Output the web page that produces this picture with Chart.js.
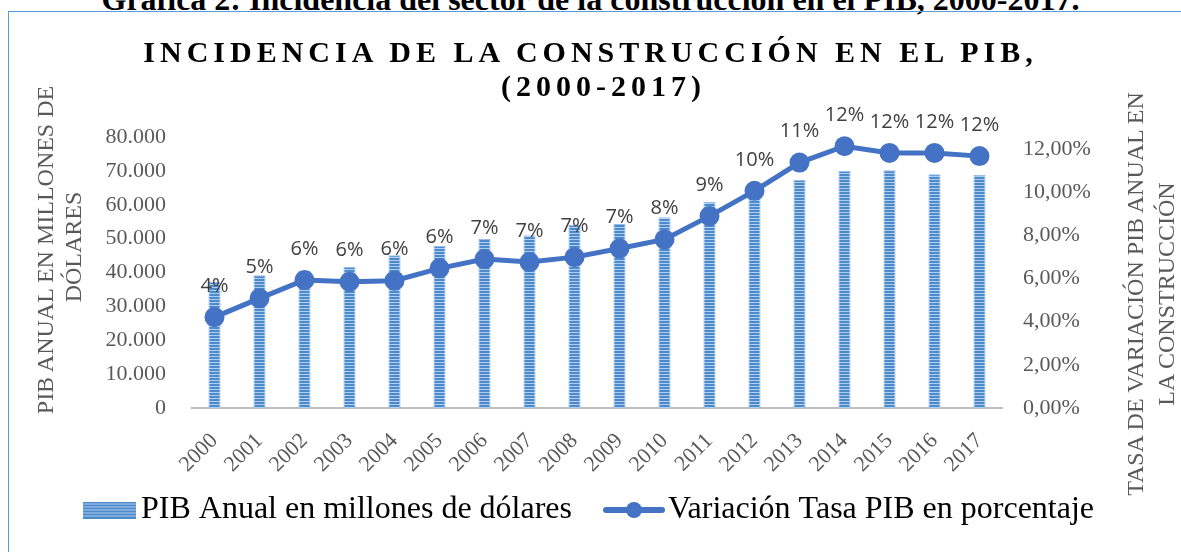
<!DOCTYPE html>
<html>
<head>
<meta charset="utf-8">
<script src="https://cdn.jsdelivr.net/npm/chart.js@4.4.0/dist/chart.umd.min.js"></script>
<style>
html, body { margin:0; padding:0; background:#fff; }
#wrap { position:relative; width:1181px; height:552px; overflow:hidden; font-family:'Liberation Serif','Times New Roman',serif; }
#caption { position:absolute; left:0; top:-17px; width:1181px; text-align:center; font-weight:bold; font-size:32px; line-height:32px; color:#000; white-space:nowrap; }
#frame { position:absolute; left:8px; top:11px; width:1300px; height:700px; border:1px solid #5b9bd5; }
canvas { position:absolute; left:0; top:0; }
.title { position:absolute; font-weight:bold; font-size:30px; line-height:30px; letter-spacing:5px; padding-left:5px; white-space:nowrap; color:#000; transform:translateX(-50%); }
.ax { position:absolute; font-size:24px; line-height:24px; color:#595959; white-space:nowrap; transform:translate(-50%,-50%) rotate(-90deg); }
</style>
</head>
<body>
<div id="wrap">
  <div id="caption">Gráfica 2: Incidencia del sector de la construcción en el PIB, 2000-2017.</div>
  <div id="frame"></div>
  <canvas id="chart" width="1181" height="552"></canvas>
  <div class="title" style="left:588px; top:37px;">INCIDENCIA DE LA CONSTRUCCIÓN EN EL PIB,</div>
  <div class="title" style="left:601px; top:71px;">(2000-2017)</div>
  <div class="ax" style="left:45px; top:250px;">PIB ANUAL EN MILLONES DE</div>
  <div class="ax" style="left:73px; top:247px;">DÓLARES</div>
  <div class="ax" style="left:1135px; top:294px;">TASA DE VARIACIÓN PIB ANUAL EN</div>
  <div class="ax" style="left:1166px; top:294px;">LA CONSTRUCCIÓN</div>
</div>
<script>
const years = ['2000', '2001', '2002', '2003', '2004', '2005', '2006', '2007', '2008',
    '2009', '2010', '2011', '2012', '2013', '2014', '2015', '2016', '2017'];

// PIB anual de la construccion, millones de dolares
const pibAnual = [37300, 39200, 40500, 41700, 45100, 47800, 49900, 51000, 54000,
    54300, 56300, 60900, 64900, 67300, 70000, 70200, 69000, 68800];

// variacion de la tasa, en porcentaje
const tasaVariacion = [4.21, 5.08, 5.93, 5.85, 5.90, 6.47, 6.90, 6.76, 6.99,
    7.39, 7.81, 8.89, 10.06, 11.37, 12.13, 11.82, 11.82, 11.67];

const serif = 'Liberation Serif';
const grey = '#595959';
const lineBlue = '#4472c4';

function stripes() {
    const c = document.createElement('canvas');
    c.width = 4; c.height = 3;
    const x = c.getContext('2d');
    x.fillStyle = '#4d8acb';
    x.fillRect(0, 0, 4, 2);
    x.fillStyle = '#afcdee';
    x.fillRect(0, 2, 4, 1);
    return c;
}

// legend swatches: visible part sits at the right end, left side stays transparent
function barSwatch() {
    const c = document.createElement('canvas');
    c.width = 92; c.height = 17;
    const x = c.getContext('2d');
    x.fillStyle = x.createPattern(stripes(), 'repeat');
    x.fillRect(39, 0, 53, 17);
    return c;
}

function lineSwatch() {
    const c = document.createElement('canvas');
    c.width = 96; c.height = 18;
    const x = c.getContext('2d');
    x.strokeStyle = lineBlue;
    x.lineWidth = 6;
    x.lineCap = 'round';
    x.beginPath(); x.moveTo(37, 9); x.lineTo(93, 9); x.stroke();
    x.fillStyle = lineBlue;
    x.beginPath(); x.arc(65, 9, 8, 0, Math.PI * 2); x.fill();
    return c;
}

const canvas = document.getElementById('chart');
const barFill = canvas.getContext('2d').createPattern(stripes(), 'repeat');
const barImg = barSwatch();
const lineImg = lineSwatch();

// etiquetas de porcentaje sobre los puntos
const pctLabels = {
    id: 'pctLabels',
    afterDatasetsDraw(chart) {
        const meta = chart.getDatasetMeta(1);
        const vals = chart.data.datasets[1].data;
        const c = chart.ctx;
        c.save();
        c.font = '20px "Open Sans"';
        c.fillStyle = '#404040';
        c.textAlign = 'center';
        c.textBaseline = 'middle';
        meta.data.forEach((pt, i) => {
            c.fillText(Math.round(vals[i]) + '%', pt.x, pt.y - 31);
        });
        c.restore();
    }
};

const data = {
    labels: years,
    datasets: [{
        type: 'bar',
        label: 'PIB Anual en millones de dólares',
        data: pibAnual,
        backgroundColor: barFill,
        borderColor: 'rgba(140,182,228,0.9)',
        borderWidth: 1,
        barPercentage: 0.9,
        categoryPercentage: 0.3,
        yAxisID: 'yL',
        order: 1
    }, {
        type: 'line',
        label: 'Variación Tasa PIB en porcentaje',
        data: tasaVariacion,
        borderColor: lineBlue,
        backgroundColor: lineBlue,
        borderWidth: 5,
        pointRadius: 7.5,
        pointBackgroundColor: lineBlue,
        pointBorderColor: lineBlue,
        tension: 0,
        clip: false,
        yAxisID: 'yR',
        order: 0
    }]
};

const config = {
    data: data,
    options: {
        responsive: false,
        animation: false,
        devicePixelRatio: 1,
        events: [],
        layout: { padding: { top: 137, bottom: 16, left: 0, right: 32 } },
        plugins: {
            title: { display: false },
            tooltip: { enabled: false },
            legend: {
                position: 'bottom',
                labels: {
                    usePointStyle: true,
                    pointStyleWidth: 70,
                    padding: 10,
                    color: '#000',
                    font: { family: serif, size: 32 },
                    sort: (a, b) => a.datasetIndex - b.datasetIndex,
                    generateLabels(chart) {
                        const items = Chart.defaults.plugins.legend.labels.generateLabels(chart);
                        items.forEach(it => { it.pointStyle = it.datasetIndex === 0 ? barImg : lineImg; });
                        return items;
                    }
                }
            }
        },
        scales: {
            x: {
                offset: true,
                grid: { display: false, drawTicks: false },
                border: { display: true, color: '#bfbfbf', width: 2 },
                ticks: {
                    color: grey,
                    font: { family: serif, size: 22 },
                    minRotation: 45,
                    maxRotation: 45,
                    autoSkip: false,
                    padding: 20
                },
                afterFit(s) { s.height = 76; }
            },
            yL: {
                position: 'left',
                min: 0,
                max: 80000,
                grid: { display: false, drawTicks: false },
                border: { display: false },
                ticks: {
                    stepSize: 10000,
                    color: grey,
                    font: { family: serif, size: 22 },
                    padding: 26,
                    callback: v => String(v).replace(/\B(?=(\d{3})+(?!\d))/g, '.')
                },
                afterFit(s) { s.width = 192; }
            },
            yR: {
                position: 'right',
                min: 0,
                max: 12.556,
                grid: { display: false, drawTicks: false },
                border: { display: false },
                ticks: {
                    stepSize: 2,
                    includeBounds: false,
                    color: grey,
                    font: { family: serif, size: 22 },
                    padding: 21,
                    callback: v => v.toFixed(2).replace('.', ',') + '%'
                },
                afterFit(s) { s.width = 147; }
            }
        }
    },
    plugins: [pctLabels]
};

const chart = new Chart(canvas, config);
</script>
</body>
</html>
